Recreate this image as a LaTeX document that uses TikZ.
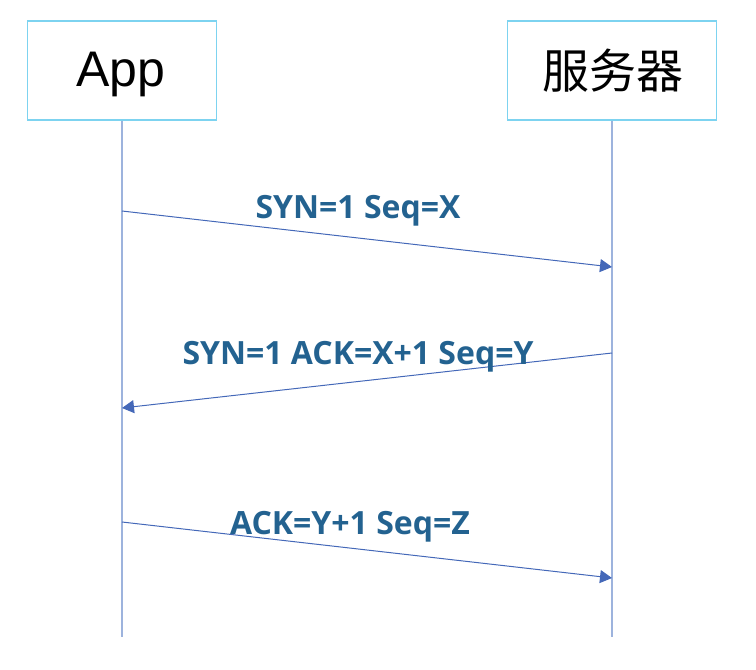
\documentclass[tikz,border=0pt]{standalone}
\usepackage{fontspec}
\setmainfont{Liberation Sans}
\newfontfamily\cjkfont{Noto Sans CJK SC}
\newfontfamily\lblfont{Open Sans}
\usetikzlibrary{arrows.meta}
\definecolor{boxc}{HTML}{7DD3F0}
\definecolor{lifec}{HTML}{9DB3DD}
\definecolor{arrc}{HTML}{4468B8}
\definecolor{txtc}{HTML}{236290}
\begin{document}
\begin{tikzpicture}[x=1pt,y=-1pt,
  actor/.style={draw=boxc,line width=1.8pt,minimum width=189pt,minimum height=99pt,inner sep=0pt},
  life/.style={draw=lifec,line width=1.3pt},
  msg/.style={draw=arrc,line width=1pt,-{Triangle[length=12pt,width=13pt]}},
  lbl/.style={text=txtc,font=\lblfont\bfseries\fontsize{32}{38}\selectfont,anchor=base,inner sep=0pt}]
\useasboundingbox (0,0) rectangle (756,670);
\node[actor] (app) at (122,70.5) {};
\node[font=\fontsize{50}{60}\selectfont,anchor=base] (apptxt) at (121,86) {App};
\node[actor,minimum width=209pt] (srv) at (612,70.5) {};
\node[font=\cjkfont\fontsize{47}{56}\selectfont,anchor=base] (srvtxt) at (613,88) {服务器};
\coordinate (append) at (122,637);
\coordinate (srvend) at (612,637);
\draw[life] (app.south) -- (append);
\draw[life] (srv.south) -- (srvend);
\coordinate (a1) at (122,211);
\coordinate (s1) at (612,267);
\coordinate (s2) at (612,353);
\coordinate (a2) at (122,408);
\coordinate (a3) at (122,522);
\coordinate (s3) at (612,578);
\draw[msg] (a1) -- (s1);
\draw[msg] (s2) -- (a2);
\draw[msg] (a3) -- (s3);
\node[lbl] (l1) at (358,218) {SYN=1 Seq=X};
\node[lbl] (l2) at (358,364) {SYN=1 ACK=X+1 Seq=Y};
\node[lbl] (l3) at (350,534) {ACK=Y+1 Seq=Z};
\end{tikzpicture}
\end{document}
